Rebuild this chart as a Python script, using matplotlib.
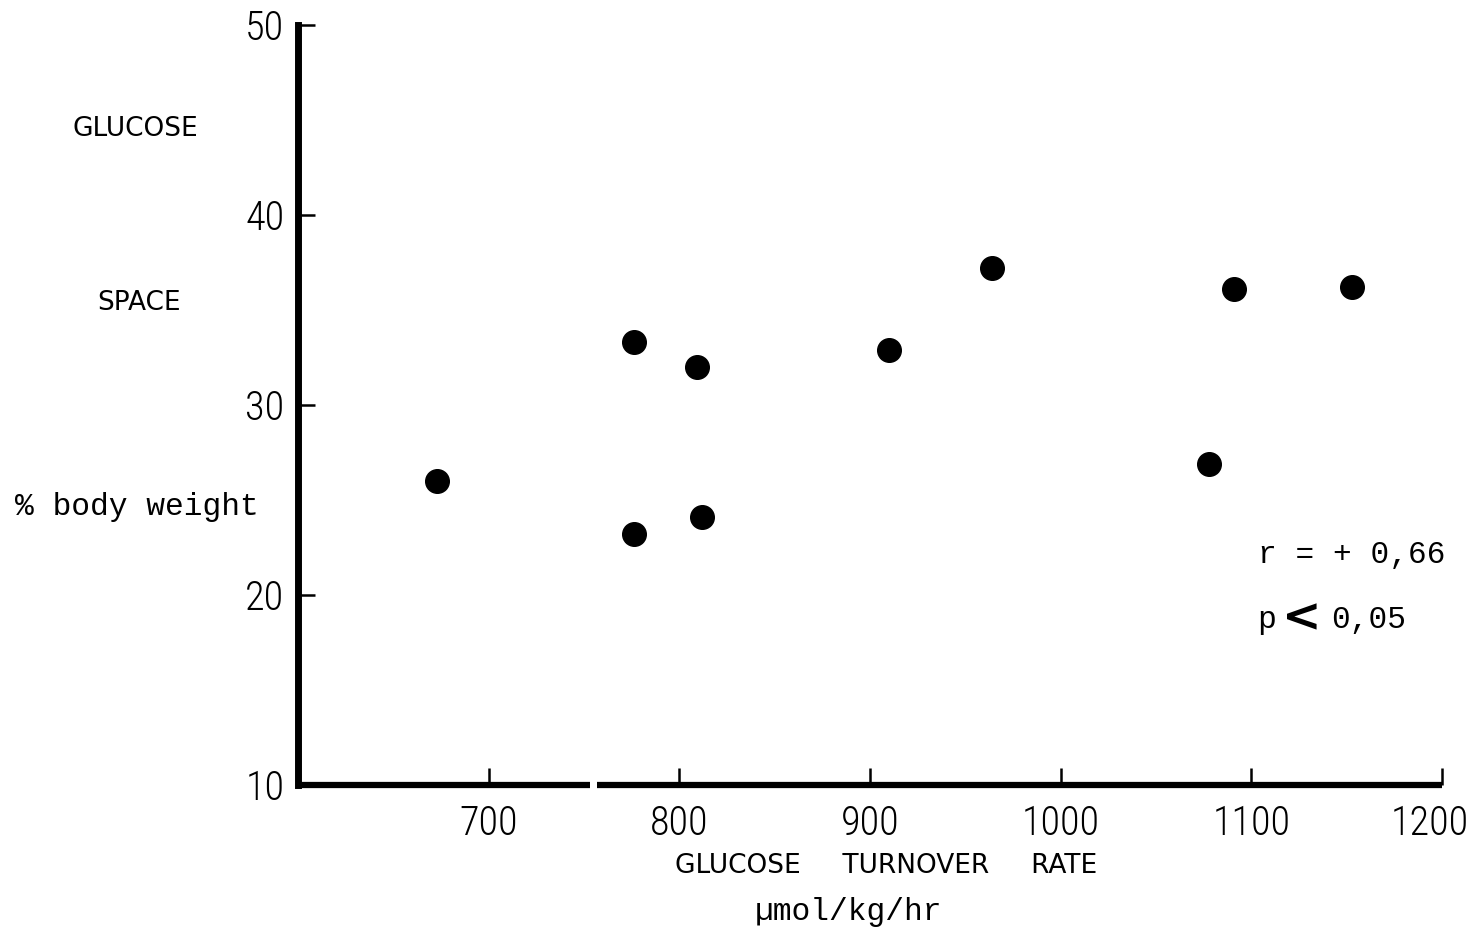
import numpy as np
import matplotlib.pyplot as plt
from matplotlib.transforms import ScaledTranslation

# glucose turnover rate (umol/kg/hr) vs glucose space (% body weight)
turnover = [673, 776, 776, 809, 812, 910, 964, 1078, 1091, 1153]
space = [26.0, 33.3, 23.2, 32.0, 24.1, 32.9, 37.2, 26.9, 36.1, 36.2]

xticks = [700, 800, 900, 1000, 1100, 1200]
yticks = [10, 20, 30, 40, 50]

narrow = ['Roboto Condensed', 'DejaVu Sans']
mono = ['Liberation Mono', 'DejaVu Sans Mono']


def main():
    fig = plt.figure(figsize=(14.76, 9.33), dpi=100)
    ax = fig.add_axes([0.202, 0.1586, 0.775, 0.8146])

    ax.plot(turnover, space, 'o', color='black', markersize=17)

    ax.set_xlim(600, 1200)
    ax.set_ylim(10, 50)

    ax.spines['top'].set_visible(False)
    ax.spines['right'].set_visible(False)
    ax.spines['bottom'].set_visible(False)
    ax.spines['left'].set_linewidth(5)

    # x axis is drawn in two pieces with a small break
    ax.plot([600, 753], [10, 10], color='black', lw=4.5, clip_on=False,
            solid_capstyle='butt')
    ax.plot([757, 1200], [10, 10], color='black', lw=4.5, clip_on=False,
            solid_capstyle='butt')

    ax.set_xticks(xticks)
    ax.set_yticks(yticks)
    ax.tick_params(axis='both', direction='in', length=12, width=1.8,
                   labelsize=29)
    ax.tick_params(axis='x', pad=14)
    ax.tick_params(axis='y', pad=10)
    for lab in ax.get_xticklabels() + ax.get_yticklabels():
        lab.set_family(narrow)
        lab.set_fontstretch('condensed')
        lab.set_fontweight('light')

    # last x label sits a little left of its tick, as in the original
    last = ax.get_xticklabels()[-1]
    last.set_transform(last.get_transform() +
                       ScaledTranslation(-0.12, 0, fig.dpi_scale_trans))

    fig.text(0.092, 0.862, 'GLUCOSE', fontsize=19, ha='center', va='center')
    fig.text(0.094, 0.675, 'SPACE', fontsize=19, ha='center', va='center')
    fig.text(0.093, 0.457, '% body weight', family=mono, fontsize=22.5,
             ha='center', va='center')

    fig.text(0.600, 0.072, 'GLUCOSE     TURNOVER     RATE', fontsize=19,
             ha='center', va='center')
    fig.text(0.575, 0.023, '\u00b5mol/kg/hr', family=mono, fontsize=22.5,
             ha='center', va='center')

    fig.text(0.852, 0.405, 'r = + 0,66', family=mono, fontsize=22.5,
             ha='left', va='center')
    fig.text(0.852, 0.336, 'p', family=mono, fontsize=22.5,
             ha='left', va='center')
    fig.text(0.8685, 0.337, '<', fontsize=34, fontweight='bold',
             ha='left', va='center')
    fig.text(0.902, 0.336, '0,05', family=mono, fontsize=22.5,
             ha='left', va='center')

    plt.savefig('out.png', dpi=100)


main()
